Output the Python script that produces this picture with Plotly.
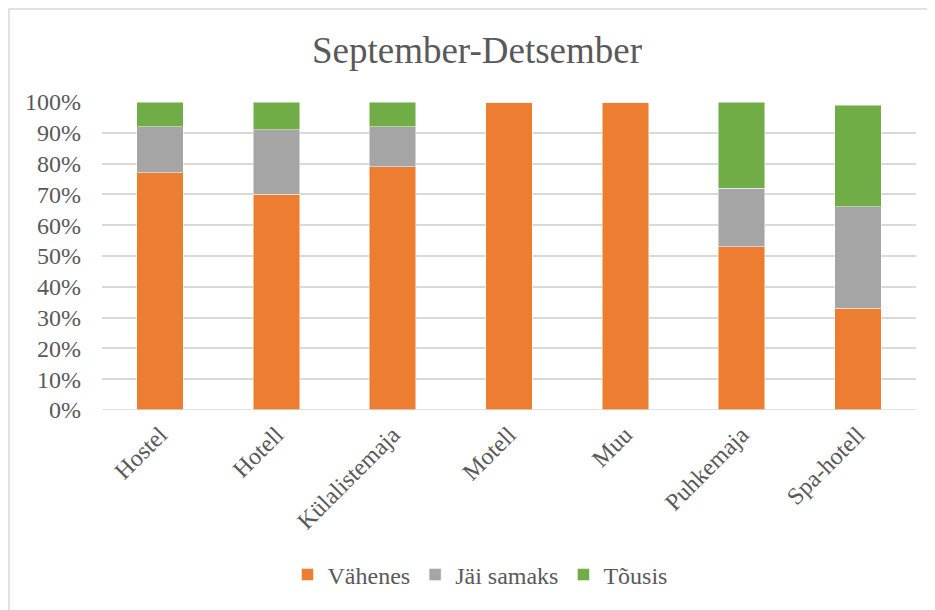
import plotly.graph_objects as go

categories = ["Hostel", "Hotell", "Külalistemaja", "Motell", "Muu", "Puhkemaja", "Spa-hotell"]
vahenes = [0.77, 0.70, 0.79, 1.00, 1.00, 0.53, 0.33]
jai_samaks = [0.15, 0.21, 0.13, 0.00, 0.00, 0.19, 0.33]
tousis = [0.08, 0.09, 0.08, 0.00, 0.00, 0.28, 0.33]
series_names = ["Vähenes", "Jäi samaks", "Tõusis"]
colors = ["#ED7D31", "#A5A5A5", "#70AD47"]

FONT = "Liberation Serif, serif"
TXT = "#595959"
OFF = 8  # default page body margin
W, H = 935 - OFF, 610 - OFF
PL, PT, PW, PH = 102 - OFF, 102 - OFF, 814, 308  # plot area in figure pixels

fig = go.Figure()
for name, vals, col in zip(series_names, [vahenes, jai_samaks, tousis], colors):
    fig.add_trace(go.Bar(
        x=categories, y=vals, name=name,
        marker=dict(color=col, line=dict(color="rgba(255,255,255,0.6)", width=0.8)),
    ))

fig.update_layout(
    barmode="stack",
    bargap=0.6,
    width=W, height=H,
    margin=dict(l=PL, r=19, t=PT, b=200, autoexpand=False),
    paper_bgcolor="white",
    plot_bgcolor="white",
    font=dict(family=FONT, color=TXT, size=24),
    title=dict(text="September-Detsember", x=(477 - OFF) / W, xref="container", xanchor="center",
               y=1 - (50 - OFF) / H, yref="container", yanchor="middle",
               font=dict(family=FONT, size=37, color=TXT)),
    showlegend=True,
    legend=dict(orientation="h", x=(480 - OFF) / W, xref="container", xanchor="center",
                y=1 - (575 - OFF) / H, yref="container", yanchor="middle",
                font=dict(family=FONT, size=24, color=TXT),
                itemwidth=30, traceorder="normal"),
    xaxis=dict(tickangle=-45, showgrid=False, showline=False, zeroline=False, automargin=False,
               tickfont=dict(family=FONT, size=24, color=TXT), ticklabelstandoff=5),
    yaxis=dict(range=[0, 1.0], dtick=0.1, tickformat=".0%", showgrid=True, automargin=False,
               gridcolor="#D9D9D9", gridwidth=1.5, zeroline=False, showline=False,
               tickfont=dict(family=FONT, size=24, color=TXT), ticklabelstandoff=20),
    shapes=[dict(type="rect", xref="paper", yref="paper",
                 x0=(1 - PL) / PW, x1=(W + 20 - PL) / PW,
                 y0=-(H + 20 - PT - PH) / PH, y1=1 + (PT - 1) / PH,
                 line=dict(color="#D9D9D9", width=1.5), fillcolor="rgba(0,0,0,0)")],
)
fig.add_shape(type="line", xref="paper", yref="y", x0=0, x1=1, y0=0, y1=0,
              line=dict(color="#D9D9D9", width=1.5))

fig.write_html("out.html")
